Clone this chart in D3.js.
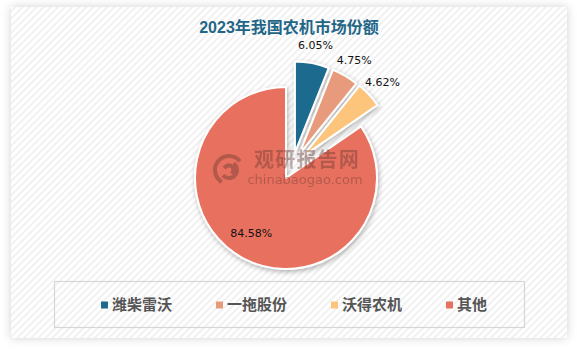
<!DOCTYPE html>
<html>
<head>
<meta charset="utf-8">
<script src="https://cdn.jsdelivr.net/npm/d3@7"></script>
<style>
  html, body { margin: 0; padding: 0; background: #ffffff; }
  svg { display: block; }
</style>
</head>
<body>
<svg id="chart" width="577" height="349"></svg>
<script>
// Market share of agricultural machinery makers, 2023 (%)
const categories = ["潍柴雷沃", "一拖股份", "沃得农机", "其他"];
const shares = [6.05, 4.75, 4.62, 84.58];
const colors = ["#1d6a8d", "#e89b7b", "#fdc57b", "#e8705f"];
const exploded = [true, true, true, false];
const titleText = "2023年我国农机市场份额";

const W = 577, H = 349;
const svg = d3.select("#chart");
const defs = svg.append("defs");

// Diagonal hatch for the panel background
const pat = defs.append("pattern")
  .attr("id", "hatch").attr("patternUnits", "userSpaceOnUse")
  .attr("width", 5).attr("height", 5)
  .attr("patternTransform", "rotate(45)");
pat.append("rect").attr("width", 5).attr("height", 5).attr("fill", "#ffffff");
pat.append("rect").attr("width", 2).attr("height", 5).attr("fill", "#f1f1f1");

// Soft shadows
const panelShadow = defs.append("filter").attr("id", "panelShadow")
  .attr("x", "-5%").attr("y", "-5%").attr("width", "110%").attr("height", "110%");
panelShadow.append("feDropShadow").attr("dx", 0).attr("dy", 0)
  .attr("stdDeviation", 5).attr("flood-color", "#000").attr("flood-opacity", 0.18);

const sliceShadow = defs.append("filter").attr("id", "sliceShadow")
  .attr("x", "-20%").attr("y", "-20%").attr("width", "140%").attr("height", "140%");
sliceShadow.append("feDropShadow").attr("dx", 1).attr("dy", 2)
  .attr("stdDeviation", 2.5).attr("flood-color", "#000").attr("flood-opacity", 0.3);

// Panel
svg.append("rect").attr("x", 11).attr("y", 7).attr("width", 556).attr("height", 331)
  .attr("fill", "url(#hatch)").attr("filter", "url(#panelShadow)");

// Title
svg.append("text")
  .attr("x", 289).attr("y", 33)
  .attr("text-anchor", "middle")
  .attr("font-family", "'Liberation Sans', 'Noto Sans CJK SC', sans-serif")
  .attr("font-weight", "bold").attr("font-size", 16)
  .attr("fill", "#1f6687")
  .text(titleText);

// Pie
const cx = 286, cy = 178, R = 91, explodeDist = 27;
const pie = d3.pie().sort(null).value(d => d)(shares);
const arc = d3.arc().innerRadius(0).outerRadius(R);

// Exploded slices move out together, each pushed along a direction halfway
// between its own mid-angle and the mid-angle of the exploded group.
const exIdx = pie.map((p, i) => i).filter(i => exploded[i]);
const groupMid = (pie[exIdx[0]].startAngle + pie[exIdx[exIdx.length - 1]].endAngle) / 2;
function offsetOf(p, i) {
  if (!exploded[i]) return [0, 0];
  const mid = (p.startAngle + p.endAngle) / 2;
  const a = (mid + groupMid) / 2;
  return [explodeDist * Math.sin(a), -explodeDist * Math.cos(a)];
}

const pieG = svg.append("g").attr("transform", `translate(${cx},${cy})`);
const slices = pieG.selectAll("g.slice").data(pie).enter().append("g")
  .attr("class", "slice")
  .attr("transform", (p, i) => { const o = offsetOf(p, i); return `translate(${o[0]},${o[1]})`; });

// Draw the large slice first so the exploded ones sit above its shadow
slices.sort((a, b) => (exploded[a.index] ? 1 : 0) - (exploded[b.index] ? 1 : 0));

slices.append("path")
  .attr("d", arc)
  .attr("fill", (p) => colors[p.index])
  .attr("stroke", "#ffffff").attr("stroke-width", 2).attr("stroke-linejoin", "round")
  .attr("filter", "url(#sliceShadow)");

// Watermark
const wm = svg.append("g").attr("opacity", 0.42).attr("pointer-events", "none");
wm.append("text").attr("x", 307).attr("y", 167).attr("text-anchor", "middle")
  .attr("font-family", "'Noto Sans CJK SC', sans-serif").attr("font-weight", "bold")
  .attr("font-size", 20).attr("letter-spacing", 1.2).attr("fill", "#6b3b33").text("观研报告网");
wm.append("text").attr("x", 305).attr("y", 184).attr("text-anchor", "middle")
  .attr("font-family", "'DejaVu Sans', sans-serif")
  .attr("font-size", 13).attr("fill", "#6b3b33").text("chinabaogao.com");
const logo = wm.append("g").attr("transform", "translate(229,170)")
  .attr("fill", "none").attr("stroke", "#6b3b33").attr("stroke-width", 4);
logo.append("path").attr("d", d3.arc().innerRadius(14).outerRadius(14).startAngle(-2.6).endAngle(0.9)());
logo.append("path").attr("d", d3.arc().innerRadius(8).outerRadius(8).startAngle(0.6).endAngle(4.0)());
logo.append("path").attr("d", "M-5,-2 C0,-7 7,-4 3,4");

// Value labels
const labelG = svg.append("g")
  .attr("font-family", "'DejaVu Sans', sans-serif").attr("font-size", 11).attr("fill", "#111");
pie.forEach((p, i) => {
  const o = offsetOf(p, i);
  const mid = (p.startAngle + p.endAngle) / 2;
  const r = exploded[i] ? R + 18 : R * 0.68;
  const x = cx + o[0] + r * Math.sin(mid);
  const y = cy + o[1] - r * Math.cos(mid);
  labelG.append("text")
    .attr("x", exploded[i] ? x : x - 6).attr("y", y).attr("dy", "0.35em")
    .attr("text-anchor", "middle")
    .text(d3.format(".2f")(shares[i]) + "%");
});

// Legend
svg.append("rect").attr("x", 54.5).attr("y", 281.5).attr("width", 470).attr("height", 46)
  .attr("fill", "none").attr("stroke", "#d6d6d6").attr("stroke-width", 1.2);

const legendX = d3.scalePoint().domain(categories).range([101, 446]);
const lg = svg.append("g").selectAll("g").data(categories).enter().append("g")
  .attr("transform", d => `translate(${legendX(d)},305)`);
lg.append("rect").attr("x", 0).attr("y", -3.5).attr("width", 7).attr("height", 7)
  .attr("fill", (d, i) => colors[i]);
lg.append("text").attr("x", 11).attr("y", 0).attr("dy", "0.36em")
  .attr("font-family", "'Noto Sans CJK SC', sans-serif").attr("font-weight", "bold")
  .attr("font-size", 15).attr("fill", "#555555")
  .text(d => d);
</script>
</body>
</html>
